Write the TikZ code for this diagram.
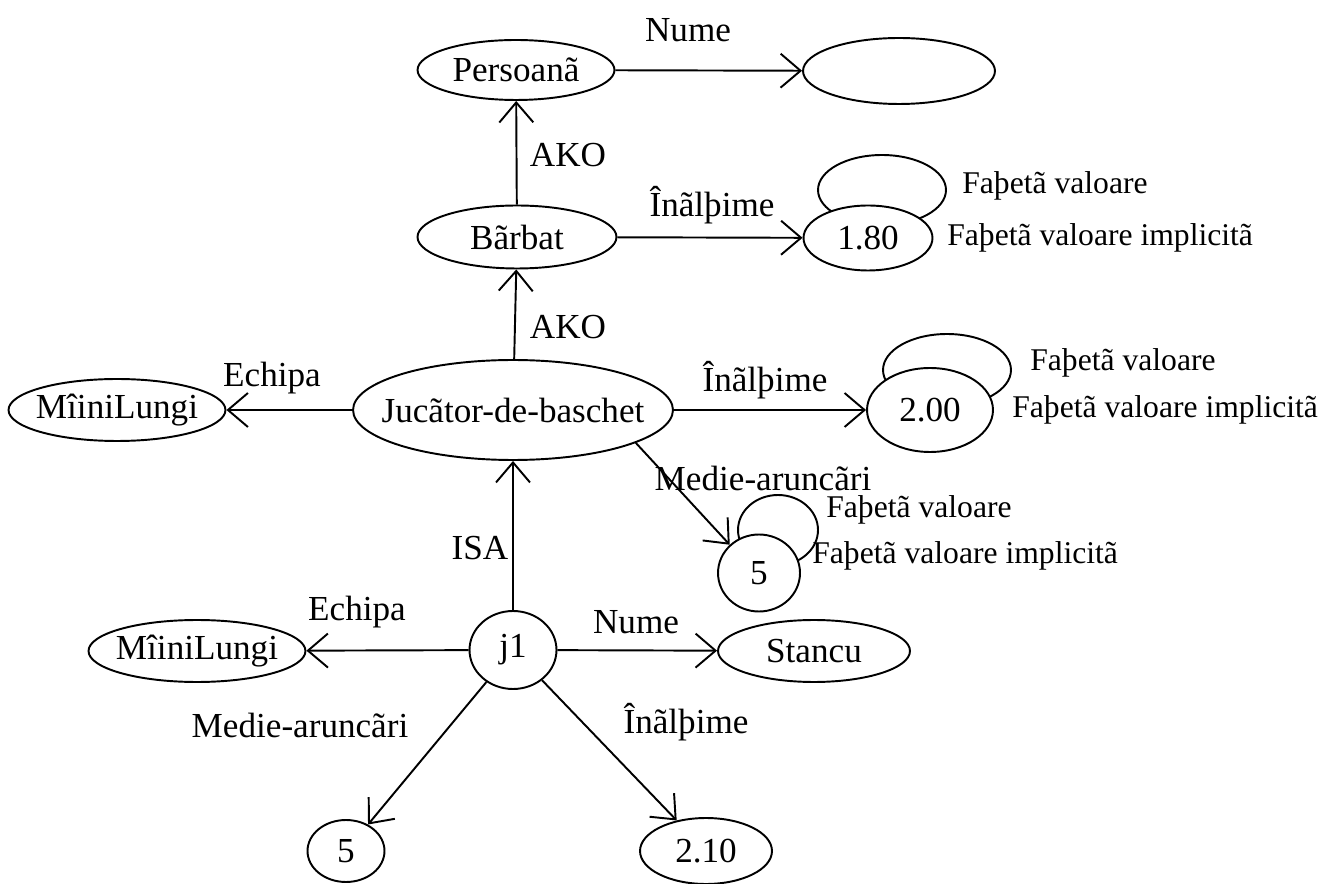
\documentclass[tikz,border=0pt]{standalone}
\usepackage{fontspec}
\setmainfont{Liberation Serif}
\usetikzlibrary{arrows.meta, shapes.geometric}

\begin{document}
\begin{tikzpicture}[x=0.02cm, y=-0.02cm,
  every node/.style={font=\fontsize{20}{24}\selectfont},
  frame/.style={ellipse, draw, line width=1.1pt, inner sep=0pt, fill=white},
  ring/.style={ellipse, draw, line width=1.1pt, inner sep=0pt},
  facet/.style={font=\fontsize{18}{22}\selectfont, anchor=west, inner sep=0pt},
  rel/.style={line width=1.1pt, -{Straight Barb[length=0.4cm, width=0.68cm, line width=1.1pt]}}]
\useasboundingbox (0,0) rectangle (1335,884);
% facet loops (drawn first, the value nodes cover them)
\node[ring, minimum width=2.56cm, minimum height=1.4cm] (L1) at (882,190) {};
\node[ring, minimum width=2.56cm, minimum height=1.44cm] (L2) at (947,370) {};
\node[ring, minimum width=1.6cm, minimum height=1.4cm] (L3) at (778,530) {};
% frames
\node[frame, minimum width=3.94cm, minimum height=1.2cm, label=center:Persoanã] (P) at (516,70) {};
\node[frame, minimum width=3.84cm, minimum height=1.32cm] (N) at (899,71) {};
\node[frame, minimum width=3.98cm, minimum height=1.26cm, label=center:Bãrbat] (B) at (517,237) {};
\node[frame, minimum width=2.58cm, minimum height=1.3cm, label=center:1.80] (H1) at (868,238) {};
\node[frame, minimum width=6.4cm, minimum height=2cm, label=center:Jucãtor-de-baschet] (J) at (513,410) {};
\node[frame, minimum width=4.34cm, minimum height=1.24cm, label=center:MîiniLungi] (E1) at (117,410) {};
\node[frame, minimum width=2.52cm, minimum height=1.68cm, label=center:2.00] (H2) at (930,410) {};
\node[frame, minimum width=1.64cm, minimum height=1.54cm, label=center:5] (M1) at (759,573) {};
\node[frame, minimum width=1.74cm, minimum height=1.56cm, label=center:j1] (j1) at (513,650) {};
\node[frame, minimum width=4.34cm, minimum height=1.24cm, label=center:MîiniLungi] (E2) at (197,651) {};
\node[frame, minimum width=3.84cm, minimum height=1.24cm, label=center:Stancu] (S) at (814,651) {};
\node[frame, minimum width=1.54cm, minimum height=1.24cm, label=center:5] (M2) at (346,851) {};
\node[frame, minimum width=2.64cm, minimum height=1.32cm, label=center:2.10] (H3) at (706,851) {};
% relations
\draw[rel] (P) -- (N);
\draw[rel] (B) -- (P);
\draw[rel] (B) -- (H1);
\draw[rel] (J) -- (B);
\draw[rel] (J) -- (E1);
\draw[rel] (J) -- (H2);
\draw[rel] (J.-15) -- (M1.136);
\draw[rel] (j1) -- (J);
\draw[rel] (j1) -- (E2);
\draw[rel] (j1) -- (S);
\draw[rel] (j1) -- (M2);
\draw[rel] (j1) -- (H3);
% labels
\node (tN1) at (688,30) {Nume};
\node (tA1) at (568,155) {AKO};
\node (tI1) at (712,205) {Înãlþime};
\node (tA2) at (568,327) {AKO};
\node (tE1) at (272,378) {Echipa};
\node (tI2) at (765,380) {Înãlþime};
\node (tM1) at (763,478) {Medie-aruncãri};
\node (tS) at (480,548) {ISA};
\node (tE2) at (357,612) {Echipa};
\node (tN2) at (636,622) {Nume};
\node (tM2) at (300,725) {Medie-aruncãri};
\node (tI3) at (686,722) {Înãlþime};
% facets
\node[facet] (f1) at (962,186) {Faþetã valoare};
\node[facet] (g1) at (947,238) {Faþetã valoare implicitã};
\node[facet] (f2) at (1030,363) {Faþetã valoare};
\node[facet] (g2) at (1012,410) {Faþetã valoare implicitã};
\node[facet] (f3) at (826,510) {Faþetã valoare};
\node[facet] (g3) at (812,556) {Faþetã valoare implicitã};
\end{tikzpicture}
\end{document}
